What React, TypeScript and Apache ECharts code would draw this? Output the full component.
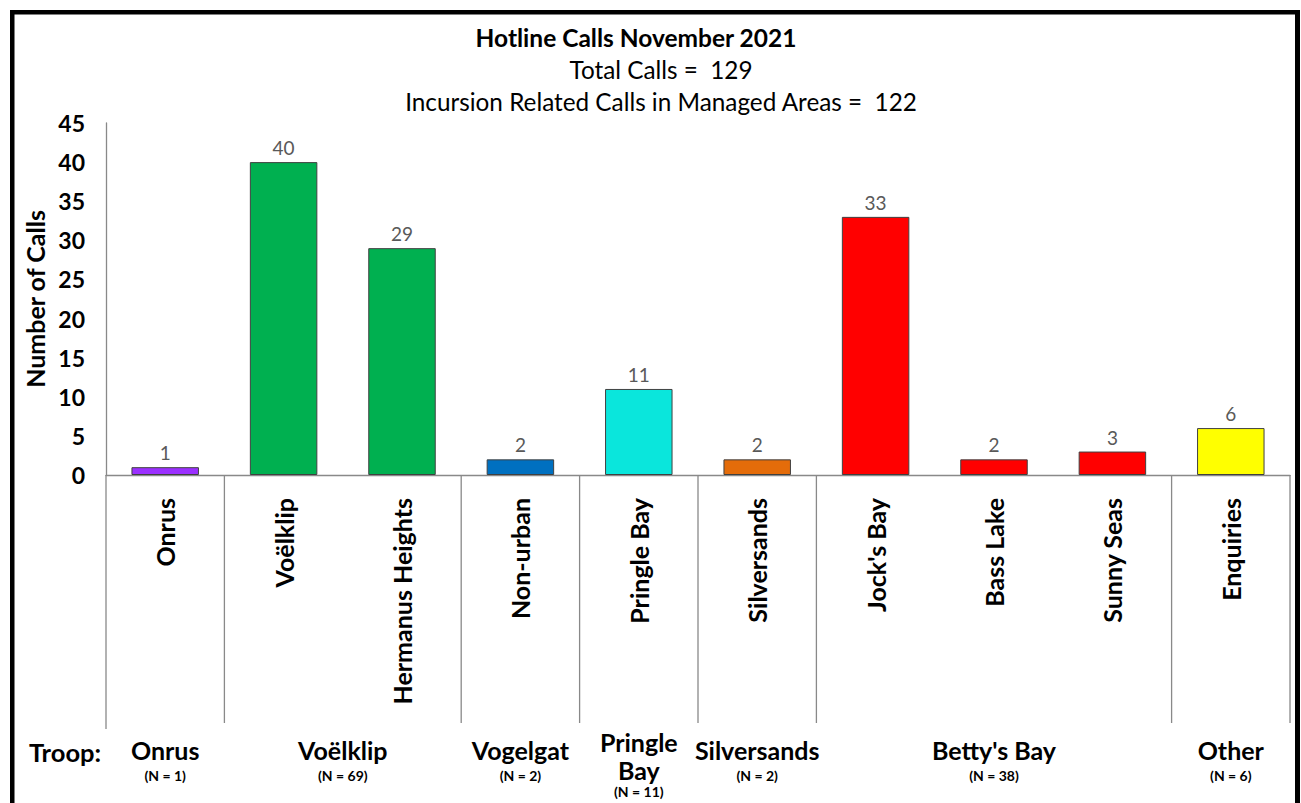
import React, { useEffect, useRef } from "react";
import * as echarts from "echarts";

const chartTitle = "Hotline Calls November 2021";
const totalCallsText = "Total Calls =  129";
const incursionText = "Incursion Related Calls in Managed Areas =  122";
const yAxisName = "Number of Calls";

const categories = [
  "Onrus",
  "Voëlklip",
  "Hermanus Heights",
  "Non-urban",
  "Pringle Bay",
  "Silversands",
  "Jock's Bay",
  "Bass Lake",
  "Sunny Seas",
  "Enquiries",
];
const calls = [1, 40, 29, 2, 11, 2, 33, 2, 3, 6];
const barColors = [
  "#9B30FF",
  "#00B050",
  "#00B050",
  "#0070C0",
  "#0AE6DC",
  "#E46C0A",
  "#FF0000",
  "#FF0000",
  "#FF0000",
  "#FFFF00",
];

const troopNames = ["Onrus", "Voëlklip", "Vogelgat", "Pringle\nBay", "Silversands", "Betty's Bay", "Other"];
const troopN = [1, 69, 2, 11, 2, 38, 6];
const troopStart = [0, 1, 3, 4, 5, 6, 9];
const troopEnd = [1, 3, 4, 5, 6, 9, 10];

const yMin = 0;
const yMax = 45;
const yInterval = 5;

const FONT = "Lato, 'Noto Sans', sans-serif";

export default function App() {
  const ref = useRef<HTMLDivElement>(null);

  useEffect(() => {
    if (!ref.current) return;
    const chart = echarts.init(ref.current, undefined, { renderer: "svg" });

    const troopData = troopStart.map((s, i) => [s, troopEnd[i], 0]);

    const option: any = {
      animation: false,
      backgroundColor: "#ffffff",
      textStyle: { fontFamily: FONT },
      grid: { left: 106, right: 11, top: 123, bottom: 328, containLabel: false },
      xAxis: [
        {
          type: "category",
          data: categories,
          boundaryGap: true,
          axisLine: { show: true, lineStyle: { color: "#898989", width: 1.3 } },
          axisTick: { show: false },
          axisLabel: {
            rotate: 90,
            margin: 23,
            color: "#000000",
            fontWeight: "bold",
            fontSize: 25,
            fontFamily: FONT,
            interval: 0,
          },
        },
        {
          type: "value",
          min: 0,
          max: 10,
          show: false,
          gridIndex: 0,
        },
      ],
      yAxis: {
        type: "value",
        min: yMin,
        max: yMax,
        interval: yInterval,
        name: yAxisName,
        nameLocation: "middle",
        nameGap: 59,
        nameTextStyle: { fontSize: 25, fontWeight: "bold", color: "#000000", fontFamily: FONT },
        axisLine: { show: true, lineStyle: { color: "#898989", width: 1.3 } },
        axisTick: { show: false },
        splitLine: { show: false },
        axisLabel: {
          margin: 21,
          color: "#000000",
          fontWeight: "bold",
          fontSize: 23,
          fontFamily: FONT,
        },
      },
      series: [
        {
          type: "bar",
          xAxisIndex: 0,
          barWidth: "57%",
          data: calls.map((v, i) => ({
            value: v,
            itemStyle: { color: barColors[i], borderColor: "#404040", borderWidth: 1 },
          })),
          label: {
            show: true,
            position: "top",
            distance: 5,
            color: "#595959",
            fontSize: 19,
            fontFamily: FONT,
          },
        },
        {
          type: "custom",
          xAxisIndex: 1,
          yAxisIndex: 0,
          clip: false,
          encode: { x: [0, 1], y: 2 },
          data: troopData,
          renderItem: (params: any, api: any) => {
            const i = params.dataIndex;
            const s = api.value(0);
            const e = api.value(1);
            const p0 = api.coord([s, 0]);
            const p1 = api.coord([e, 0]);
            const len = 248;
            const cx = (p0[0] + p1[0]) / 2;
            const lines = troopNames[i].split("\n").length;
            const nameTop = p0[1] + 261 - (lines - 1) * 8;
            const children: any[] = [
              {
                type: "line",
                shape: { x1: p0[0], y1: p0[1], x2: p0[0], y2: p0[1] + (s === 0 ? len + 6 : len) },
                style: { stroke: "#898989", lineWidth: 1.3 },
              },
            ];
            if (e === 10) {
              children.push({
                type: "line",
                shape: { x1: p1[0], y1: p1[1], x2: p1[0], y2: p1[1] + len },
                style: { stroke: "#898989", lineWidth: 1.3 },
              });
            }
            children.push({
              type: "text",
              x: cx,
              y: nameTop,
              style: {
                text: troopNames[i],
                font: `bold 25px ${FONT}`,
                fill: "#000000",
                align: "center",
                verticalAlign: "top",
                lineHeight: 28,
              },
            });
            children.push({
              type: "text",
              x: cx,
              y: nameTop + lines * 28 + (lines > 1 ? -2 : 0),
              style: {
                text: `(N = ${troopN[i]})`,
                font: `bold 14px ${FONT}`,
                fill: "#000000",
                align: "center",
                verticalAlign: "top",
                lineHeight: lines > 1 ? 18 : 22,
              },
            });
            return { type: "group", children };
          },
        },
      ],
      graphic: [
        {
          type: "text",
          x: 636,
          y: 37,
          style: {
            text: chartTitle,
            font: `bold 24.5px ${FONT}`,
            fill: "#000000",
            align: "center",
            verticalAlign: "middle",
          },
        },
        {
          type: "text",
          x: 661,
          y: 69,
          style: {
            text: totalCallsText,
            font: `24.3px ${FONT}`,
            fill: "#000000",
            align: "center",
            verticalAlign: "middle",
          },
        },
        {
          type: "text",
          x: 661,
          y: 101,
          style: {
            text: incursionText,
            font: `24.3px ${FONT}`,
            fill: "#000000",
            align: "center",
            verticalAlign: "middle",
          },
        },
        {
          type: "text",
          x: 65,
          y: 752,
          style: {
            text: "Troop:",
            font: `bold 25.5px ${FONT}`,
            fill: "#000000",
            align: "center",
            verticalAlign: "middle",
          },
        },
        { type: "rect", shape: { x: 10, y: 10, width: 4.5, height: 800 }, style: { fill: "#000000" }, z: 100 },
        { type: "rect", shape: { x: 10, y: 10, width: 1290, height: 4.5 }, style: { fill: "#000000" }, z: 100 },
        { type: "rect", shape: { x: 1295, y: 10, width: 5, height: 800 }, style: { fill: "#000000" }, z: 100 },
      ],
    };

    chart.setOption(option);
    return () => {
      chart.dispose();
    };
  }, []);

  return (
    <div
      ref={ref}
      style={{ position: "absolute", left: 0, top: 0, width: 1301, height: 803, background: "#ffffff" }}
    />
  );
}
